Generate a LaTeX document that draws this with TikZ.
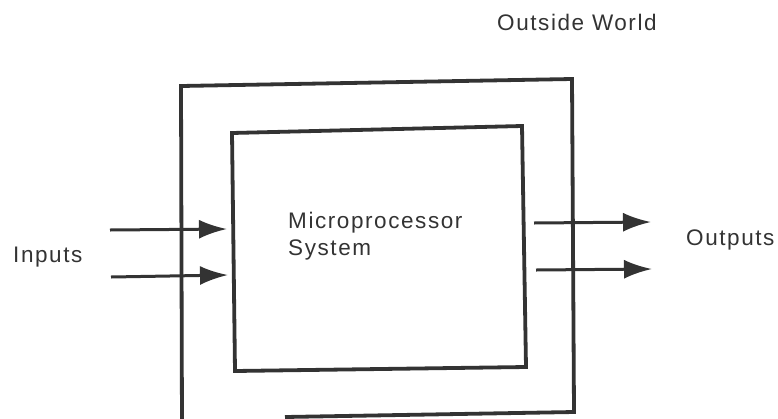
\documentclass[tikz,border=0pt]{standalone}
\usepackage{fontspec}
\setmainfont[LetterSpace=7]{Liberation Sans}
\usetikzlibrary{arrows.meta}
\definecolor{ink}{HTML}{333333}
\tikzset{
  box/.style={draw=ink, line width=3.8pt, line join=miter},
  lbl/.style={text=ink, font=\fontsize{22.5}{27}\selectfont, inner sep=0pt, anchor=base west, align=left},
  sig/.style={draw=ink, line width=3pt, -{Latex[length=28pt,width=19pt]}},
}
\begin{document}
\begin{tikzpicture}[x=1pt,y=-1pt]
\useasboundingbox (0,0) rectangle (778,418);
\begin{scope}
\clip (0,0) rectangle (778,418);
% outer box
\draw[box] (182,430) -- (181,86) -- (572,79) -- (574,412) -- (285,417);
% inner box
\draw[box] (235,371) -- (232,133) -- (522,126) -- (526,367) -- cycle;
\end{scope}
% labels
\node[lbl] (world) at (497,30) {Outside World};
\node[lbl] (mp) at (288,255) {Microprocessor\\System};
\node[lbl] (in) at (13,262) {Inputs};
\node[lbl] (out) at (686,245) {Outputs};
% arrows
\coordinate (i1s) at (110,230); \coordinate (i1e) at (227,229);
\coordinate (i2s) at (111,277); \coordinate (i2e) at (228,275);
\coordinate (o1s) at (534,223); \coordinate (o1e) at (651,222);
\coordinate (o2s) at (536,270); \coordinate (o2e) at (652,269);
\draw[sig] (i1s) -- (i1e);
\draw[sig] (i2s) -- (i2e);
\draw[sig] (o1s) -- (o1e);
\draw[sig] (o2s) -- (o2e);
\end{tikzpicture}
\end{document}
